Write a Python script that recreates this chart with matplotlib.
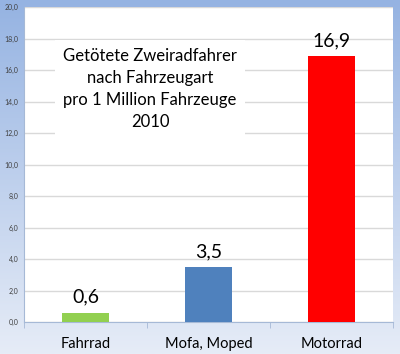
import numpy as np
import matplotlib
matplotlib.use("Agg")
import matplotlib.pyplot as plt

categories = ["Fahrrad", "Mofa, Moped", "Motorrad"]
values = [0.6, 3.5, 16.9]
value_labels = ["0,6", "3,5", "16,9"]
bar_colors = ["#92D050", "#4F81BD", "#FF0000"]
yticks = [0, 2, 4, 6, 8, 10, 12, 14, 16, 18, 20]
title_lines = ["Getötete Zweiradfahrer", "nach Fahrzeugart", "pro 1 Million Fahrzeuge", "2010"]

plt.rcParams['font.family'] = ['Lato', 'DejaVu Sans']

W, H = 400, 354
fig = plt.figure(figsize=(W / 100, H / 100), dpi=100)

# background gradient
bg = fig.add_axes([0, 0, 1, 1], zorder=0)
top = np.array([0x95, 0xB3, 0xE2]) / 255
bot = np.array([0xE6, 0xEC, 0xF7]) / 255
t = np.linspace(0, 1, 256)[:, None, None]
grad = top * (1 - t) + bot * t
grad = np.repeat(grad, 4, axis=1)
bg.imshow(grad, aspect="auto", extent=[0, 1, 0, 1])
bg.axis("off")

ax = fig.add_axes([24 / W, (H - 322) / H, 369 / W, 315 / H], zorder=1)
ax.set_facecolor("white")
x = np.arange(len(categories))
ax.bar(x, values, width=0.39, color=bar_colors, zorder=3)
for xi, v, lab in zip(x, values, value_labels):
    ax.annotate(lab, (xi, v), xytext=(0, 5), textcoords="offset points",
                ha="center", va="bottom", fontsize=14, color="black", zorder=4)

ax.set_xlim(-0.5, 2.5)
ax.set_ylim(0, 20)
ax.set_yticks(yticks)
ax.set_yticklabels([f"{v:.1f}".replace(".", ",") for v in yticks], fontsize=5, color="#404040")
ax.yaxis.grid(True, color="#D9D9D9", linewidth=1, zorder=0)
ax.tick_params(axis="y", length=0, pad=4)

ax.set_xticks(x)
ax.set_xticklabels(categories, fontsize=10.5)
ax.tick_params(axis="x", length=0, pad=11)
ax.set_xticks([-0.5, 0.5, 1.5, 2.5], minor=True)
ax.tick_params(axis="x", which="minor", length=4, color="#A6B9D6")

for s in ["top", "right"]:
    ax.spines[s].set_visible(False)
ax.spines["left"].set_color("#A6B9D6")
ax.spines["bottom"].set_color("#A6B9D6")

ax.text(126 / 369, 1 - 82 / 315, "\n".join(title_lines), transform=ax.transAxes,
        ha="center", va="center", fontsize=12, linespacing=1.45, zorder=5,
        bbox=dict(facecolor="white", edgecolor="none", pad=6))

fig.savefig("out.png", dpi=100)
